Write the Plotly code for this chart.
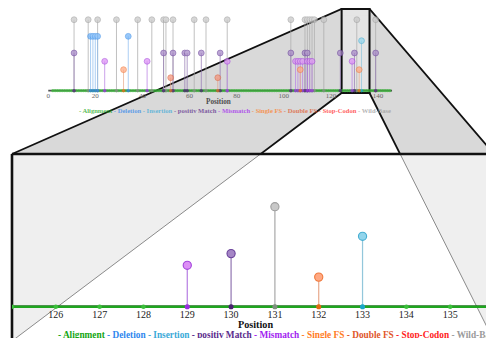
import plotly.graph_objects as go

# The page body keeps an 8px margin, so the figure sits at (8, 8) in the window.
OFFSET = 8
FIG_W, FIG_H = 494 - OFFSET, 338 - OFFSET

# ---------------- data ----------------
categories = ["Alignment", "Deletion", "Insertion", "positiv Match", "Mismatch",
              "Single FS", "Double FS", "Stop-Codon", "Wild-Base"]
category_heights = [0, 76.6, 70.4, 53.1, 41.4, 29.6, 18.3, 88.0, 100.0]

alignment_first = 2
alignment_last = 145
deletion_pos = [18, 19, 20, 21, 34]
insertion_pos = [133]
positiv_match_pos = [11, 49, 53, 58, 59, 65, 73, 103, 109, 110, 124, 130, 139]
mismatch_pos = [24, 42, 76, 105, 106, 107, 108, 110, 111, 112, 129]
single_fs_pos = [32, 107, 132]
double_fs_pos = [52, 72]
stop_codon_pos = []
wild_base_pos = [11, 17, 21, 29, 38, 44, 49, 50, 53, 62, 67, 76, 103, 109, 110,
                 111, 112, 113, 117, 131, 139]

overview_range = [0, 146]
overview_ticks = [0, 20, 40, 60, 80, 100, 120, 140]
zoom_range = [125, 136]
zoom_ticks = [126, 127, 128, 129, 130, 131, 132, 133, 134, 135, 136]

# ---------------- styles ----------------
legend_colors = {"Alignment": "#13a513", "Deletion": "#2f87ee", "Insertion": "#3aaad8",
                 "positiv Match": "#5b2b8c", "Mismatch": "#a21ff0", "Single FS": "#ff7b24",
                 "Double FS": "#e0562a", "Stop-Codon": "#ff1c1c", "Wild-Base": "#9a9a9a"}
# fill, stroke, stem, base
styles = {
    "Wild-Base": ("#c8c8c8", "#a0a0a0", "#aaaaaa", "#7f8f7f"),
    "Deletion": ("#72b4f8", "#3d8fe8", "#8cbcf0", "#2f7fe0"),
    "Insertion": ("#92d5ec", "#47aed2", "#93c7db", "#1aa6c8"),
    "positiv Match": ("#a586c6", "#6c449c", "#9479b3", "#4a2370"),
    "Mismatch": ("#dd90f6", "#a446dc", "#b87fe3", "#9a2fe0"),
    "Single FS": ("#ffa983", "#f07a3e", "#e8ab8e", "#e26a12"),
    "Double FS": ("#f3937a", "#db6441", "#e3a18c", "#d45a2a"),
    "Stop-Codon": ("#ff7070", "#ee2222", "#f09090", "#dd1111"),
}
positions_by_cat = {
    "Wild-Base": wild_base_pos, "Deletion": deletion_pos, "Insertion": insertion_pos,
    "positiv Match": positiv_match_pos, "Mismatch": mismatch_pos,
    "Single FS": single_fs_pos, "Double FS": double_fs_pos, "Stop-Codon": stop_codon_pos,
}
draw_order = ["Wild-Base", "Deletion", "Insertion", "positiv Match", "Mismatch",
              "Single FS", "Double FS", "Stop-Codon"]


def PX(x):
    return (x - OFFSET) / FIG_W


def PY(y):
    return 1 - (y - OFFSET) / FIG_H


fig = go.Figure()


def add_chart(xa, ya, rng, s, op):
    h_of = dict(zip(categories, category_heights))
    fig.add_trace(go.Scatter(x=rng, y=[0, 0], mode="lines", xaxis=xa, yaxis=ya,
                             line=dict(color="#111111", width=1.5 * s + 0.3),
                             opacity=op, hoverinfo="skip"))
    al = list(range(alignment_first, alignment_last + 1))
    fig.add_trace(go.Scatter(x=al, y=[0] * len(al), mode="lines+markers", xaxis=xa, yaxis=ya,
                             line=dict(color="#1fa51f", width=2.0 * s ** 0.5),
                             marker=dict(size=3.2 * s, color="#3cbf3c"),
                             opacity=op, hoverinfo="skip"))
    for cat in draw_order:
        pos = positions_by_cat[cat]
        if not pos:
            continue
        h = h_of[cat]
        fill, stroke, stem, base = styles[cat]
        sx, sy = [], []
        for p in pos:
            sx += [p, p, None]
            sy += [0, h, None]
        fig.add_trace(go.Scatter(x=sx, y=sy, mode="lines", xaxis=xa, yaxis=ya,
                                 line=dict(color=stem, width=1.0 * s ** 0.6),
                                 opacity=op, hoverinfo="skip"))
        fig.add_trace(go.Scatter(x=pos, y=[0] * len(pos), mode="markers", xaxis=xa, yaxis=ya,
                                 marker=dict(size=3.6 * s, color=base, symbol="circle"),
                                 opacity=op, hoverinfo="skip"))
        fig.add_trace(go.Scatter(x=pos, y=[h] * len(pos), mode="markers", xaxis=xa, yaxis=ya,
                                 marker=dict(size=5.8 * s, color=fill,
                                             line=dict(color=stroke, width=0.8 * s)),
                                 opacity=op, hoverinfo="skip"))


add_chart("x", "y", overview_range, 1.0, 0.72)
add_chart("x2", "y2", zoom_range, 1.41, 1.0)

# ---------------- lens shapes (window pixel coordinates) ----------------
box_l, box_r, box_t, box_b = 341, 369, 9, 93
pan_l, pan_r, pan_t, pan_b = 10, 494, 154, 341
mid_l = box_l - (pan_t - box_b) * (box_l - pan_l) / (pan_b - box_b)
mid_r = box_r + (pan_t - box_b) * (pan_r - box_r) / (pan_b - box_b)


def path(pts):
    return "M " + " L ".join(f"{PX(x):.5f},{PY(y):.5f}" for x, y in pts) + " Z"


shapes = []
shapes.append(dict(type="path", xref="paper", yref="paper", layer="below",
                   path=path([(box_l, box_t), (box_r, box_t), (pan_r, pan_t), (pan_l, pan_t)]),
                   fillcolor="#d9d9d9", line=dict(color="#111111", width=1.8)))
shapes.append(dict(type="path", xref="paper", yref="paper", layer="below",
                   path=path([(box_l, box_b), (box_r, box_b), (mid_r, pan_t), (mid_l, pan_t)]),
                   fillcolor="#ffffff", line=dict(color="#111111", width=1.8)))
shapes.append(dict(type="rect", xref="paper", yref="paper", layer="below",
                   x0=PX(pan_l), x1=PX(pan_r + 8), y0=PY(pan_b + 10), y1=PY(pan_t),
                   fillcolor="#efefef", line=dict(width=0)))
shapes.append(dict(type="path", xref="paper", yref="paper", layer="below",
                   path=path([(mid_l, pan_t), (mid_r, pan_t), (pan_r, pan_b), (pan_l, pan_b)]),
                   fillcolor="#ffffff", line=dict(width=0)))
for (x0, y0, x1, y1) in [(mid_l, pan_t, pan_l, pan_b), (mid_r, pan_t, pan_r, pan_b)]:
    shapes.append(dict(type="line", xref="paper", yref="paper", layer="below",
                       x0=PX(x0), y0=PY(y0), x1=PX(x1), y1=PY(y1),
                       line=dict(color="#8a8a8a", width=1)))
shapes.append(dict(type="line", xref="paper", yref="paper", layer="below",
                   x0=PX(pan_l), y0=PY(pan_t), x1=PX(pan_r + 8), y1=PY(pan_t),
                   line=dict(color="#111111", width=2.6)))
shapes.append(dict(type="line", xref="paper", yref="paper", layer="below",
                   x0=PX(pan_l), y0=PY(pan_t), x1=PX(pan_l), y1=PY(pan_b + 10),
                   line=dict(color="#111111", width=2.6)))
shapes.append(dict(type="rect", xref="paper", yref="paper", layer="below",
                   x0=PX(box_l), x1=PX(box_r), y0=PY(box_b), y1=PY(box_t),
                   fillcolor="#e5e5e5", line=dict(color="#111111", width=2)))


def legend_html():
    parts = [f"<span style='color:{legend_colors[c]}'>- {c}</span>" for c in categories]
    return "<b>" + " ".join(parts) + "</b>"


FONT = "Liberation Serif"
annotations = [
    dict(text="<b>Position</b>", x=PX(217), y=PY(102), xref="paper", yref="paper",
         showarrow=False, xanchor="center", yanchor="middle",
         font=dict(family=FONT, size=7.2, color="#111111"), opacity=0.72),
    dict(text=legend_html(), x=PX(75.5), y=PY(110), xref="paper", yref="paper",
         showarrow=False, xanchor="left", yanchor="middle",
         font=dict(family=FONT, size=6.6), opacity=0.72),
    dict(text="<b>Position</b>", x=PX(255), y=PY(324), xref="paper", yref="paper",
         showarrow=False, xanchor="center", yanchor="middle",
         font=dict(family=FONT, size=10.2, color="#111111")),
    dict(text=legend_html(), x=PX(54), y=PY(335), xref="paper", yref="paper",
         showarrow=False, xanchor="left", yanchor="middle",
         font=dict(family=FONT, size=9.3)),
]

# axis geometry (window pixels)
ov_px0, ov_scale = 46.3, 2.366
ov_dom = [PX(ov_px0), PX(ov_px0 + (overview_range[1] - overview_range[0]) * ov_scale)]
top_base, top_k = 90.7, 0.71
top_yr = [-3, 106]
top_ydom = [PY(top_base - top_yr[0] * top_k), PY(top_base - top_yr[1] * top_k)]
bot_base, bot_k = 306.7, 1.0
bot_yr = [-4, 105]
bot_ydom = [PY(bot_base - bot_yr[0] * bot_k), PY(bot_base - bot_yr[1] * bot_k)]

fig.update_layout(
    width=FIG_W, height=FIG_H, margin=dict(l=0, r=0, t=0, b=0),
    paper_bgcolor="#ffffff", plot_bgcolor="rgba(0,0,0,0)",
    showlegend=False, shapes=shapes, annotations=annotations,
    xaxis=dict(domain=ov_dom, range=overview_range, anchor="y", tickmode="array",
               tickvals=overview_ticks, showgrid=False, zeroline=False, showline=False,
               ticks="", tickfont=dict(family=FONT, size=7, color="#666666"),
               ticklabelstandoff=-3),
    yaxis=dict(domain=top_ydom, range=top_yr, visible=False, anchor="x"),
    xaxis2=dict(domain=[PX(10), 1.0], range=zoom_range, anchor="y2", tickmode="array",
                tickvals=zoom_ticks, showgrid=False, zeroline=False, showline=False,
                ticks="", tickfont=dict(family=FONT, size=10, color="#222222"),
                ticklabelstandoff=-4),
    yaxis2=dict(domain=bot_ydom, range=bot_yr, visible=False, anchor="x2"),
)

fig.write_html("out.html")
